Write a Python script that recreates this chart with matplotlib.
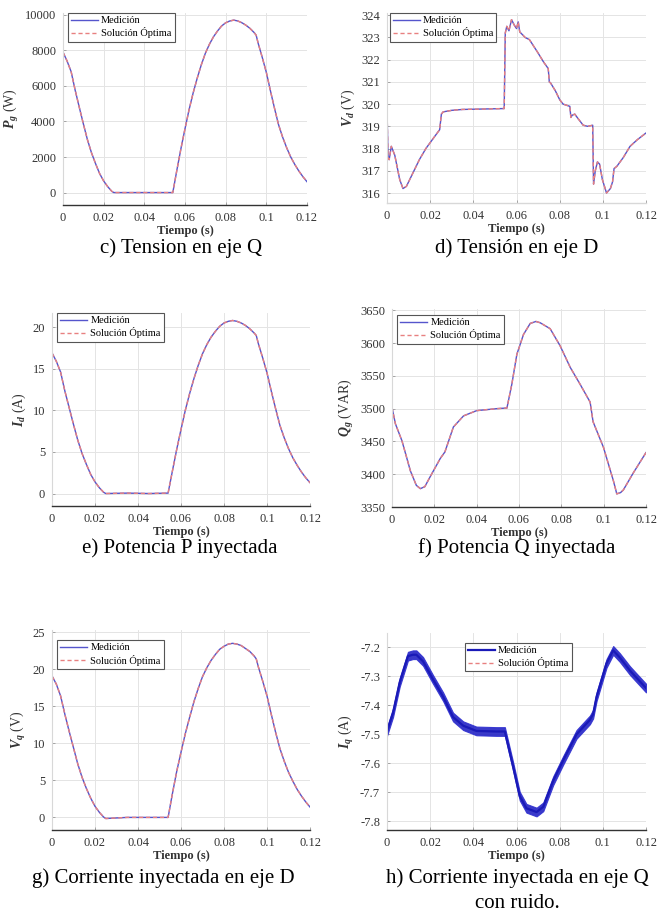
import numpy as np
import matplotlib
matplotlib.use("Agg")
import matplotlib.pyplot as plt

plt.rcParams['font.family'] = ['Liberation Serif', 'DejaVu Serif']
plt.rcParams['mathtext.fontset'] = 'custom'
plt.rcParams['mathtext.rm'] = 'Liberation Serif'
plt.rcParams['mathtext.it'] = 'Liberation Serif:italic:bold'
plt.rcParams['mathtext.bf'] = 'Liberation Serif:bold'
plt.rcParams['axes.unicode_minus'] = False

# ---- data ----
# shared time base for P_g, I_d, V_q
t_pq = [0, 0.002, 0.004, 0.006, 0.008, 0.010, 0.012, 0.014, 0.016, 0.018, 0.020,
        0.022, 0.024, 0.025, 0.035, 0.045, 0.054, 0.056, 0.058, 0.060, 0.062,
        0.064, 0.066, 0.068, 0.070, 0.072, 0.074, 0.076, 0.078, 0.080, 0.082,
        0.084, 0.086, 0.088, 0.090, 0.092, 0.094, 0.095, 0.096, 0.098, 0.100,
        0.102, 0.104, 0.106, 0.108, 0.110, 0.112, 0.114, 0.116, 0.118, 0.120]
p_g = [7900, 7400, 6800, 5750, 4800, 3870, 2980, 2240, 1630, 1070, 650,
       330, 70, 0, 0, 0, 0, 1260, 2470, 3590, 4660,
       5600, 6430, 7180, 7830, 8340, 8760, 9090, 9370, 9550, 9650,
       9700, 9650, 9550, 9410, 9230, 9000, 8850, 8390, 7600, 6760,
       5730, 4750, 3820, 3120, 2520, 2000, 1580, 1210, 890, 610]
i_d = [16.9, 15.9, 14.6, 12.3, 10.3, 8.3, 6.4, 4.8, 3.5, 2.3, 1.4,
       0.7, 0.15, 0.0, 0.05, 0.0, 0.05, 2.7, 5.3, 7.7, 10.0,
       12.0, 13.8, 15.4, 16.8, 17.9, 18.8, 19.5, 20.1, 20.5, 20.7,
       20.8, 20.7, 20.5, 20.2, 19.8, 19.3, 19.0, 18.0, 16.3, 14.5,
       12.3, 10.2, 8.2, 6.7, 5.4, 4.3, 3.4, 2.6, 1.9, 1.3]
v_q = [19.1, 18.0, 16.4, 13.9, 11.6, 9.4, 7.2, 5.4, 3.9, 2.6, 1.5,
       0.7, 0.05, -0.15, 0.0, 0.0, 0.0, 3.2, 6.2, 8.8, 11.3,
       13.5, 15.6, 17.4, 19.0, 20.2, 21.2, 22.0, 22.7, 23.1, 23.4,
       23.5, 23.4, 23.2, 22.8, 22.4, 21.8, 21.4, 20.3, 18.4, 16.4,
       13.9, 11.5, 9.3, 7.6, 6.1, 4.9, 3.8, 2.9, 2.1, 1.4]

t_vd = [0, 0.0005, 0.001, 0.002, 0.0036, 0.0059, 0.0074, 0.009, 0.012, 0.015,
        0.018, 0.021, 0.0244, 0.0252, 0.026, 0.030, 0.035, 0.045, 0.0543, 0.0548,
        0.0555, 0.0565, 0.0577, 0.059, 0.0600, 0.0608, 0.0615, 0.064, 0.066, 0.068,
        0.070, 0.0725, 0.0747, 0.0752, 0.0758, 0.078, 0.0800, 0.0816, 0.0847, 0.0852,
        0.0858, 0.0870, 0.0885, 0.0909, 0.0930, 0.0953, 0.0957, 0.0965, 0.0975, 0.0985,
        0.0998, 0.1017, 0.1035, 0.1045, 0.1052, 0.1065, 0.1095, 0.1126, 0.116, 0.120]
v_d = [319.8, 317.6, 317.5, 318.1, 317.7, 316.6, 316.2, 316.3, 316.9, 317.5,
       318.0, 318.4, 318.85, 319.55, 319.65, 319.72, 319.76, 319.78, 319.8, 323.2,
       323.5, 323.3, 323.8, 323.55, 323.4, 323.7, 323.25, 323.0, 322.9, 322.6,
       322.3, 321.9, 321.6, 321.0, 320.95, 320.6, 320.2, 320.0, 319.9, 319.4,
       319.5, 319.55, 319.35, 319.05, 319.0, 319.05, 316.4, 317.0, 317.4, 317.3,
       316.6, 316.0, 316.2, 316.5, 317.1, 317.2, 317.6, 318.1, 318.4, 318.7]

t_qg = [0, 0.0016, 0.0047, 0.0087, 0.0115, 0.0134, 0.0155, 0.018, 0.0228, 0.025,
        0.029, 0.0338, 0.040, 0.0495, 0.0543, 0.0566, 0.059, 0.0621, 0.0653, 0.068,
        0.070, 0.0747, 0.0794, 0.0842, 0.0889, 0.0936, 0.0950, 0.0999, 0.1046, 0.1062,
        0.1080, 0.1093, 0.114, 0.120]
q_g = [3502, 3477, 3451, 3405, 3383, 3378, 3381, 3396, 3424, 3434,
       3472, 3489, 3497, 3500, 3501, 3537, 3583, 3613, 3630, 3633,
       3631, 3622, 3596, 3563, 3537, 3510, 3480, 3441, 3390, 3370,
       3372, 3376, 3402, 3433]

t_iq = [0, 0.0028, 0.0059, 0.0097, 0.0120, 0.0136, 0.0167, 0.0213, 0.026, 0.0306,
        0.0353, 0.0414, 0.0507, 0.0546, 0.0584, 0.0615, 0.0646, 0.0693, 0.0724, 0.077,
        0.0816, 0.0878, 0.094, 0.0955, 0.0971, 0.1017, 0.1048, 0.1079, 0.1126, 0.120]
i_q = [-7.49, -7.425, -7.32, -7.23, -7.225, -7.225, -7.248, -7.31, -7.37, -7.44,
       -7.47, -7.488, -7.49, -7.49, -7.61, -7.713, -7.755, -7.768, -7.75, -7.66,
       -7.59, -7.5, -7.45, -7.43, -7.37, -7.255, -7.21, -7.235, -7.28, -7.34]

xticks = [0, 0.02, 0.04, 0.06, 0.08, 0.1, 0.12]
xtick_labels = ['0', '0.02', '0.04', '0.06', '0.08', '0.1', '0.12']

W, H = 671, 914
fig = plt.figure(figsize=(W / 100, H / 100), dpi=100)


def px_axes(left, top, right, bottom):
    return fig.add_axes([left / W, 1 - bottom / H, (right - left) / W, (bottom - top) / H])


def style_axes(ax, ylabel, ylim, yticks, ytick_labels=None, dark_bottom=True):
    ax.set_xlim(0, 0.12)
    ax.set_ylim(*ylim)
    ax.set_xticks(xticks)
    ax.set_xticklabels(xtick_labels)
    ax.set_yticks(yticks)
    if ytick_labels is not None:
        ax.set_yticklabels(ytick_labels)
    ax.grid(True, color='#e4e4e4', linewidth=0.7)
    ax.set_axisbelow(True)
    for s in ['top', 'right']:
        ax.spines[s].set_visible(False)
    ax.spines['left'].set_color('#d8d8d8')
    ax.spines['bottom'].set_color('#333333' if dark_bottom else '#d8d8d8')
    ax.spines['bottom'].set_linewidth(1.0)
    ax.tick_params(direction='in', length=2.5, width=0.6, colors='#999999',
                   labelcolor='#333333', labelsize=9, pad=5)
    ax.set_xlabel('Tiempo (s)', fontsize=9, fontweight='bold', color='#333333', labelpad=1)
    ax.set_ylabel(ylabel, fontsize=10, color='#333333', labelpad=3)


def draw_pair(ax, t, v, blue='#5555cc', lw_blue=1.0, red_z=2.5):
    l1, = ax.plot(t, v, color=blue, linewidth=lw_blue, solid_joinstyle='round', zorder=2.2)
    l2, = ax.plot(t, v, color='#e88080', linewidth=1.0, linestyle=(0, (3, 2)), zorder=red_z)
    return l1, l2


def add_legend(ax, handles, x0=0.02, y0=1.0):
    leg = ax.legend(handles, ['Medición', 'Solución Óptima'], loc='upper left',
                    bbox_to_anchor=(x0, y0), fontsize=7.5, frameon=True, fancybox=False,
                    borderaxespad=0, handlelength=2.6, handletextpad=0.3,
                    borderpad=0.3, labelspacing=0.2, framealpha=1)
    leg.get_frame().set_edgecolor('#555555')
    leg.get_frame().set_linewidth(0.8)


# c) P_g
ax_c = px_axes(63, 13, 307, 205)
h = draw_pair(ax_c, t_pq, p_g)
style_axes(ax_c, r'$P_g$ (W)', (-700, 10100), [0, 2000, 4000, 6000, 8000, 10000])
add_legend(ax_c, h)

# d) V_d
ax_d = px_axes(387, 13, 646, 203)
h = draw_pair(ax_d, t_vd, v_d)
style_axes(ax_d, r'$V_d$ (V)', (315.55, 324.1), list(range(316, 325)), dark_bottom=False)
add_legend(ax_d, h, x0=0.01)

# e) I_d
ax_e = px_axes(52, 313, 310, 506)
h = draw_pair(ax_e, t_pq, i_d)
style_axes(ax_e, r'$I_d$ (A)', (-1.5, 21.7), [0, 5, 10, 15, 20])
add_legend(ax_e, h)

# f) Q_g
ax_f = px_axes(392, 309, 646, 507)
h = draw_pair(ax_f, t_qg, q_g)
style_axes(ax_f, r'$Q_g$ (VAR)', (3350, 3652), [3350, 3400, 3450, 3500, 3550, 3600, 3650])
add_legend(ax_f, h, y0=0.97)

# g) V_q
ax_g = px_axes(52, 630, 310, 830)
h = draw_pair(ax_g, t_pq, v_q)
style_axes(ax_g, r'$V_q$ (V)', (-1.7, 25.3), [0, 5, 10, 15, 20, 25])
add_legend(ax_g, h, y0=0.95)

# h) I_q with measurement noise drawn as a band around the read trace
ax_h = px_axes(387, 633, 646, 830)
h = draw_pair(ax_h, t_iq, i_q, blue='#1a1ab8', lw_blue=1.6, red_z=2.0)
ax_h.fill_between(t_iq, np.array(i_q) - 0.015, np.array(i_q) + 0.015,
                  color='#2424c4', alpha=0.9, linewidth=0.8, edgecolor='#3030d0', zorder=2.1)
yt_h = [-7.8, -7.7, -7.6, -7.5, -7.4, -7.3, -7.2]
style_axes(ax_h, r'$I_q$ (A)', (-7.83, -7.15), yt_h, ['%.1f' % v for v in yt_h])
add_legend(ax_h, h, x0=0.30, y0=0.95)

# captions
cap = dict(fontsize=15, ha='center', va='center', color='black', family='Liberation Serif')
fig.text(181 / W, 1 - 248 / H, 'c) Tension en eje Q', **cap)
fig.text(517 / W, 1 - 248 / H, 'd) Tensión en eje D', **cap)
fig.text(180 / W, 1 - 548 / H, 'e) Potencia P inyectada', **cap)
fig.text(517 / W, 1 - 548 / H, 'f) Potencia Q inyectada', **cap)
fig.text(163 / W, 1 - 878 / H, 'g) Corriente inyectada en eje D', **cap)
fig.text(517 / W, 1 - 878 / H, 'h) Corriente inyectada en eje Q', **cap)
fig.text(517 / W, 1 - 903 / H, 'con ruido.', **cap)

fig.savefig('out.png', dpi=100, facecolor='white')
